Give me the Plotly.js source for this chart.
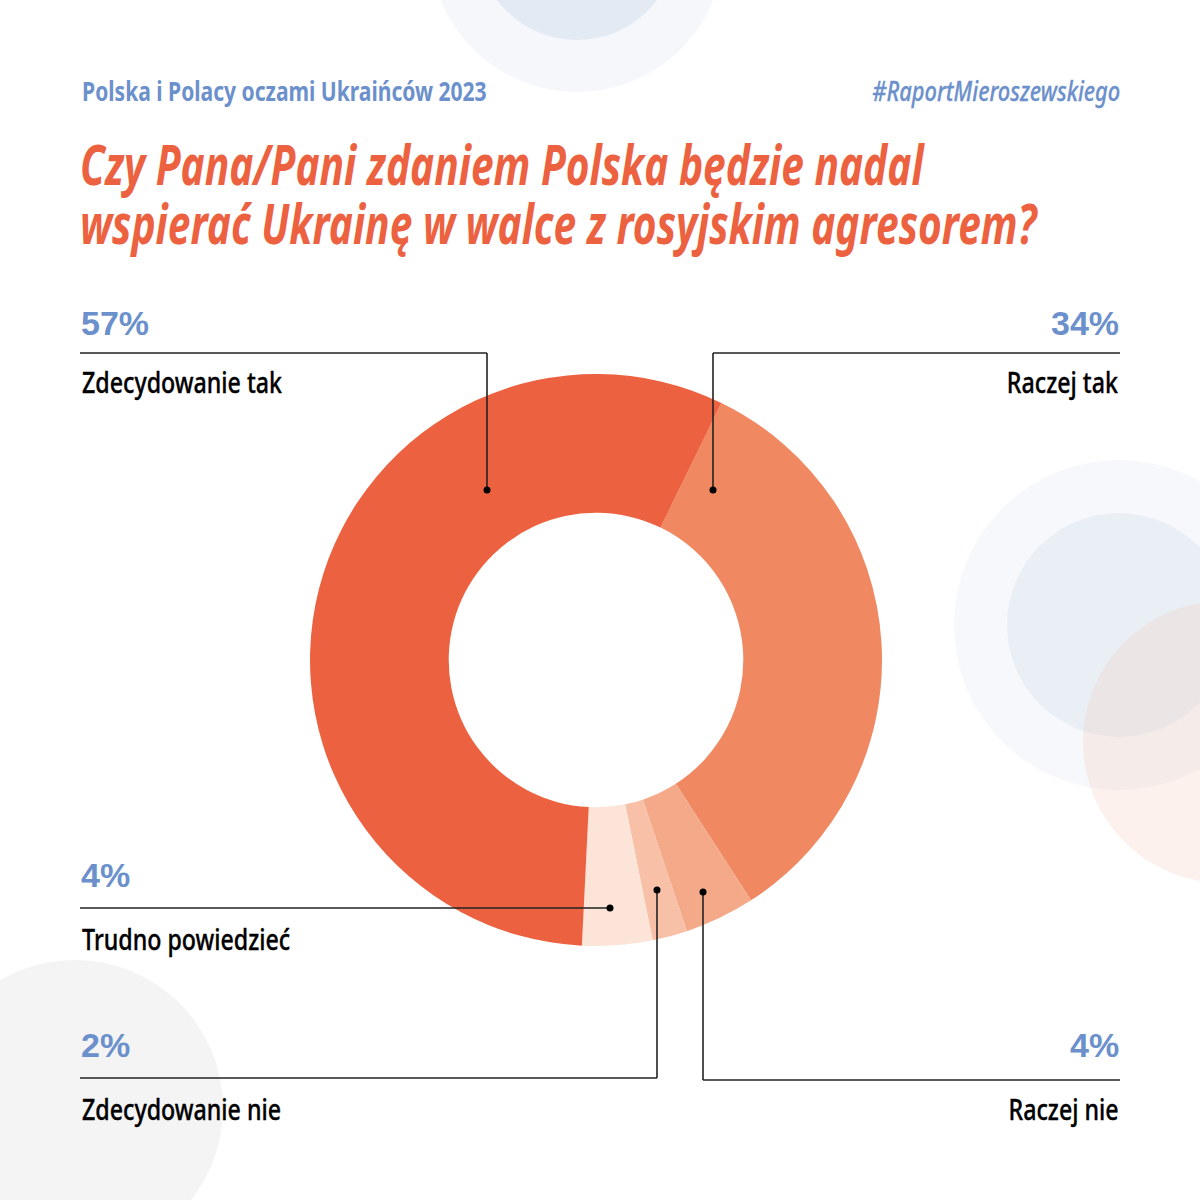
<!DOCTYPE html>
<html>
<head>
<meta charset="utf-8">
<script src="https://cdn.plot.ly/plotly-3.0.1.min.js"></script>
<style>
html,body{margin:0;padding:0;background:#fff;}
#chart{width:1200px;height:1200px;}
</style>
</head>
<body>
<div id="chart"></div>
<script>
// ---- data ----
const categories = ["Raczej tak", "Raczej nie", "Zdecydowanie nie", "Trudno powiedzieć", "Zdecydowanie tak"];
const values = [34, 4, 2, 4, 57];
const sliceColors = ["#F08862", "#F4A989", "#F8C0A6", "#FCE4D8", "#EC6241"];
const percentLabels = ["34%", "4%", "2%", "4%", "57%"];

const headerText = "Polska i Polacy oczami Ukraińców 2023";
const hashtagText = "#RaportMieroszewskiego";
const titleText = "Czy Pana/Pani zdaniem Polska będzie nadal<br>wspierać Ukrainę w walce z rosyjskim agresorem?";

// ---- helpers (pixel -> paper) ----
const W = 1200, H = 1200;
const px = x => x / W;
const py = y => 1 - y / H;

const BLUE = "#6B90CB";
const ORANGE = "#EC6241";
const COND = "'Noto Sans', 'DejaVu Sans Condensed', sans-serif";

const trace = {
  type: "pie",
  labels: categories,
  values: values,
  marker: {colors: sliceColors, line: {width: 0}},
  hole: 0.515,
  sort: false,
  direction: "clockwise",
  rotation: 26,
  textinfo: "none",
  hoverinfo: "label+percent",
  showlegend: false,
  domain: {x: [px(310), px(882)], y: [py(946), py(374)]}
};

// background decorative circles
function circle(cx, cy, r, color, opacity) {
  return {type: "circle", xref: "paper", yref: "paper", layer: "below",
    x0: px(cx - r), x1: px(cx + r), y0: py(cy + r), y1: py(cy - r),
    fillcolor: color, opacity: opacity === undefined ? 1 : opacity, line: {width: 0}};
}
function line(x0, y0, x1, y1) {
  return {type: "line", xref: "paper", yref: "paper", layer: "above",
    x0: px(x0), y0: py(y0), x1: px(x1), y1: py(y1), line: {color: "#222222", width: 1.6}};
}
function dot(cx, cy) {
  const r = 3.5;
  return {type: "circle", xref: "paper", yref: "paper", layer: "above",
    x0: px(cx - r), x1: px(cx + r), y0: py(cy + r), y1: py(cy - r),
    fillcolor: "#000", line: {width: 0}};
}

const shapes = [
  circle(577, -55, 147, "#F5F7FB"),
  circle(577, -60, 100, "#E4EAF4"),
  circle(1119, 625, 165, "#F6F8FB"),
  circle(1119, 625, 112, "#EAEFF6"),
  circle(1224, 742, 141, "#F5C7B5", 0.25),
  circle(75, 1108, 148, "#F4F4F4"),
  // leader lines
  line(80, 353, 487, 353), line(487, 353, 487, 490), dot(487, 490),
  line(713, 353, 1120, 353), line(713, 353, 713, 490), dot(713, 490),
  line(80, 908, 610, 908), dot(610, 908),
  line(80, 1078, 657, 1078), line(657, 1078, 657, 890), dot(657, 890),
  line(703, 1080, 1120, 1080), line(703, 1080, 703, 892), dot(703, 892)
];

// horizontal condensing factor and faux-medium stroke for each annotation (style only)
const annScale = [];
const annStroke = [];
function txt(text, x, y, anchor, font, sx, stroke) {
  annScale.push(sx || 1);
  annStroke.push(stroke || 0);
  return {text: text, xref: "paper", yref: "paper", x: px(x), y: py(y),
    xanchor: anchor, yanchor: "middle", showarrow: false, font: font};
}
const pctFont = {family: "'Liberation Sans', Arial, sans-serif", size: 34, color: BLUE, weight: 700};
const lblFont = {family: COND, size: 29, color: "#000", weight: 500};
const LS = 0.80, LW = 0.35;

const annotations = [
  txt(headerText, 80, 91, "left", {family: COND, size: 27, color: BLUE, weight: 700}, 0.78),
  txt(hashtagText, 1122, 91, "right", {family: COND, size: 27, color: BLUE, style: "italic", weight: 500}, 0.81, 0.3),
  // Zdecydowanie tak
  txt(percentLabels[4], 79, 323, "left", pctFont),
  txt(categories[4], 80, 381, "left", lblFont, LS, LW),
  // Raczej tak
  txt(percentLabels[0], 1121, 323, "right", pctFont),
  txt(categories[0], 1121, 381, "right", lblFont, LS, LW),
  // Trudno powiedzieć
  txt(percentLabels[3], 79, 875, "left", pctFont),
  txt(categories[3], 80, 938, "left", lblFont, LS, LW),
  // Zdecydowanie nie
  txt(percentLabels[2], 79, 1045, "left", pctFont),
  txt(categories[2], 80, 1108, "left", lblFont, LS, LW),
  // Raczej nie
  txt(percentLabels[1], 1121, 1045, "right", pctFont),
  txt(categories[1], 1121, 1108, "right", lblFont, LS, LW)
];

const TITLE_SCALE = 0.74;
const layout = {
  width: W, height: H,
  margin: {l: 0, r: 0, t: 0, b: 0},
  paper_bgcolor: "#FFFFFF",
  plot_bgcolor: "#FFFFFF",
  title: {
    text: titleText,
    x: px(80), xanchor: "left", xref: "paper",
    y: py(185), yanchor: "top", yref: "paper",
    font: {family: COND, size: 55, color: ORANGE, weight: 700, style: "italic"}
  },
  shapes: shapes,
  annotations: annotations
};

function condense(el, s, origin) {
  if (!el || s === 1) return;
  el.style.transformBox = "fill-box";
  el.style.transformOrigin = origin + " center";
  el.style.transform = "scaleX(" + s + ")";
}

Plotly.newPlot("chart", [trace], layout, {displayModeBar: false}).then(gd => {
  gd.querySelectorAll(".annotation").forEach(g => {
    const i = +g.getAttribute("data-index");
    const t = g.querySelector("text.annotation-text");
    condense(t, annScale[i], annotations[i].xanchor);
    if (t && annStroke[i]) {
      t.style.stroke = annotations[i].font.color;
      t.style.strokeWidth = annStroke[i] + "px";
    }
  });
  const title = gd.querySelector(".gtitle");
  if (title) {
    const lines = title.querySelectorAll("tspan.line");
    lines.forEach((ln, k) => { if (k > 0) ln.setAttribute("dy", "1.07em"); });
    condense(title, TITLE_SCALE, "left");
  }
});
</script>
</body>
</html>
